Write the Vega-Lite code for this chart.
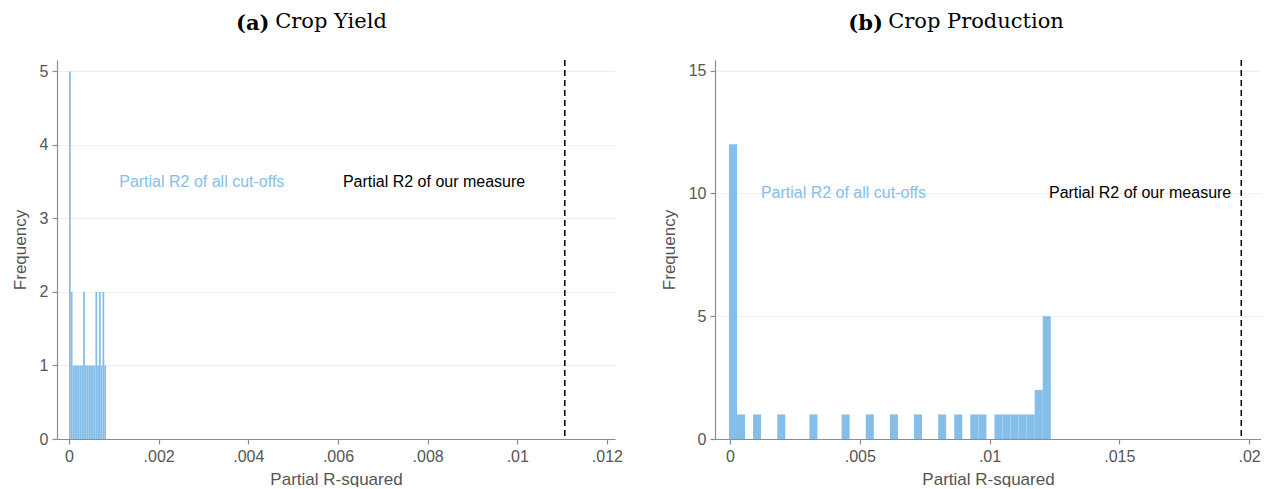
{
  "$schema": "https://vega.github.io/schema/vega-lite/v6.json",
  "background": "white",
  "padding": {"left": 11, "top": 11, "right": 0, "bottom": 0},
  "spacing": 37,
  "datasets": {
    "yield": [
      {"x0": 0.0, "x1": 0.0000393, "n": 5},
      {"x0": 0.0000393, "x1": 0.0000786, "n": 2},
      {"x0": 0.0000786, "x1": 0.0001179, "n": 1},
      {"x0": 0.0001179, "x1": 0.0001572, "n": 1},
      {"x0": 0.0001572, "x1": 0.0001965, "n": 1},
      {"x0": 0.0001965, "x1": 0.0002358, "n": 1},
      {"x0": 0.0002358, "x1": 0.0002751, "n": 1},
      {"x0": 0.0002751, "x1": 0.0003144, "n": 1},
      {"x0": 0.0003144, "x1": 0.0003537, "n": 2},
      {"x0": 0.0003537, "x1": 0.000393, "n": 1},
      {"x0": 0.000393, "x1": 0.0004323, "n": 1},
      {"x0": 0.0004323, "x1": 0.0004716, "n": 1},
      {"x0": 0.0004716, "x1": 0.0005109, "n": 1},
      {"x0": 0.0005109, "x1": 0.0005502, "n": 1},
      {"x0": 0.0005502, "x1": 0.0005895, "n": 1},
      {"x0": 0.0005895, "x1": 0.0006288, "n": 2},
      {"x0": 0.0006288, "x1": 0.0006681, "n": 1},
      {"x0": 0.0006681, "x1": 0.0007074, "n": 2},
      {"x0": 0.0007074, "x1": 0.0007467, "n": 1},
      {"x0": 0.0007467, "x1": 0.000786, "n": 2},
      {"x0": 0.000786, "x1": 0.0008253, "n": 1}
    ],
    "prod": [
      {"x0": -0.00004, "x1": 0.00027, "n": 12},
      {"x0": 0.00027, "x1": 0.00058, "n": 1},
      {"x0": 0.00089, "x1": 0.0012, "n": 1},
      {"x0": 0.00182, "x1": 0.00213, "n": 1},
      {"x0": 0.00306, "x1": 0.00337, "n": 1},
      {"x0": 0.0043, "x1": 0.00461, "n": 1},
      {"x0": 0.00523, "x1": 0.00554, "n": 1},
      {"x0": 0.00616, "x1": 0.00647, "n": 1},
      {"x0": 0.00709, "x1": 0.0074, "n": 1},
      {"x0": 0.00802, "x1": 0.00833, "n": 1},
      {"x0": 0.00864, "x1": 0.00895, "n": 1},
      {"x0": 0.00926, "x1": 0.00957, "n": 1},
      {"x0": 0.00957, "x1": 0.00988, "n": 1},
      {"x0": 0.01019, "x1": 0.0105, "n": 1},
      {"x0": 0.0105, "x1": 0.01081, "n": 1},
      {"x0": 0.01081, "x1": 0.01112, "n": 1},
      {"x0": 0.01112, "x1": 0.01143, "n": 1},
      {"x0": 0.01143, "x1": 0.01174, "n": 1},
      {"x0": 0.01174, "x1": 0.01205, "n": 2},
      {"x0": 0.01205, "x1": 0.01236, "n": 5}
    ]
  },
  "hconcat": [
    {
      "title": {"text": "(a)", "fontWeight": "bold", "offset": -23, "dx": -64},
      "vconcat": [
        {
          "width": 558,
          "height": 379,
          "title": {"text": "Crop Yield", "dx": -5},
          "layer": [
            {
              "data": {"name": "yield"},
              "mark": {"type": "rect", "color": "#85bee9"},
              "encoding": {
                "x": {
                  "field": "x0", "type": "quantitative",
                  "scale": {"domain": [-0.000268, 0.01218], "nice": false, "zero": false},
                  "axis": {"title": "Partial R-squared", "values": [0, 0.002, 0.004, 0.006, 0.008, 0.01, 0.012],
                           "labelExpr": "replace(format(datum.value, '~g'), '0.', '.')"}
                },
                "x2": {"field": "x1"},
                "y": {
                  "field": "n", "type": "quantitative",
                  "scale": {"domain": [0, 5.156], "nice": false},
                  "axis": {"title": "Frequency", "values": [0, 1, 2, 3, 4, 5], "format": "d", "grid": true}
                },
                "y2": {"datum": 0}
              }
            },
            {
              "data": {"values": [{"r2": 0.01106}]},
              "mark": {"type": "rule", "color": "black", "strokeDash": [6, 4], "strokeWidth": 1.5},
              "encoding": {"x": {"field": "r2", "type": "quantitative"}}
            },
            {
              "data": {"values": [{"x": 0.00112, "y": 3.5, "label": "Partial R2 of all cut-offs"}]},
              "mark": {"type": "text", "align": "left", "baseline": "middle", "font": "Liberation Sans", "fontSize": 16, "color": "#85bee9"},
              "encoding": {"x": {"field": "x", "type": "quantitative"}, "y": {"field": "y", "type": "quantitative"}, "text": {"field": "label"}}
            },
            {
              "data": {"values": [{"x": 0.00611, "y": 3.5, "label": "Partial R2 of our measure"}]},
              "mark": {"type": "text", "align": "left", "baseline": "middle", "font": "Liberation Sans", "fontSize": 16, "color": "#000000"},
              "encoding": {"x": {"field": "x", "type": "quantitative"}, "y": {"field": "y", "type": "quantitative"}, "text": {"field": "label"}}
            }
          ]
        }
      ]
    },
    {
      "title": {"text": "(b)", "fontWeight": "bold", "offset": -23, "dx": -95},
      "vconcat": [
        {
          "width": 546,
          "height": 379,
          "title": {"text": "Crop Production", "dx": -12},
          "layer": [
            {
              "data": {"name": "prod"},
              "mark": {"type": "rect", "color": "#85bee9"},
              "encoding": {
                "x": {
                  "field": "x0", "type": "quantitative",
                  "scale": {"domain": [-0.000578, 0.02046], "nice": false, "zero": false},
                  "axis": {"title": "Partial R-squared", "values": [0, 0.005, 0.01, 0.015, 0.02],
                           "labelExpr": "replace(format(datum.value, '~g'), '0.', '.')"}
                },
                "x2": {"field": "x1"},
                "y": {
                  "field": "n", "type": "quantitative",
                  "scale": {"domain": [0, 15.43], "nice": false},
                  "axis": {"title": "Frequency", "values": [0, 5, 10, 15], "format": "d", "grid": true}
                },
                "y2": {"datum": 0}
              }
            },
            {
              "data": {"values": [{"r2": 0.0197}]},
              "mark": {"type": "rule", "color": "black", "strokeDash": [6, 4], "strokeWidth": 1.5},
              "encoding": {"x": {"field": "r2", "type": "quantitative"}}
            },
            {
              "data": {"values": [{"x": 0.00119, "y": 10, "label": "Partial R2 of all cut-offs"}]},
              "mark": {"type": "text", "align": "left", "baseline": "middle", "font": "Liberation Sans", "fontSize": 16, "color": "#85bee9"},
              "encoding": {"x": {"field": "x", "type": "quantitative"}, "y": {"field": "y", "type": "quantitative"}, "text": {"field": "label"}}
            },
            {
              "data": {"values": [{"x": 0.01229, "y": 10, "label": "Partial R2 of our measure"}]},
              "mark": {"type": "text", "align": "left", "baseline": "middle", "font": "Liberation Sans", "fontSize": 16, "color": "#000000"},
              "encoding": {"x": {"field": "x", "type": "quantitative"}, "y": {"field": "y", "type": "quantitative"}, "text": {"field": "label"}}
            }
          ]
        }
      ]
    }
  ],
  "config": {
    "view": {"stroke": null},
    "concat": {"spacing": 0},
    "title": {
      "font": "DejaVu Serif", "fontSize": 21, "fontWeight": "normal", "color": "#000000",
      "offset": 27, "anchor": "middle"
    },
    "axis": {
      "domainColor": "#8c8c8c", "domainWidth": 1.2,
      "tickColor": "#8c8c8c", "tickSize": 5, "tickWidth": 1.2,
      "labelFont": "Liberation Sans", "labelFontSize": 16, "labelColor": "#555555", "labelPadding": 4,
      "titleFont": "Liberation Sans", "titleFontSize": 17, "titleFontWeight": "normal", "titleColor": "#555555", "titlePadding": 7,
      "gridColor": "#e8f0f2", "gridWidth": 1
    },
    "axisX": {"grid": false, "labelFlush": false},
    "axisY": {"labelAngle": 0, "titlePadding": 10}
  }
}
